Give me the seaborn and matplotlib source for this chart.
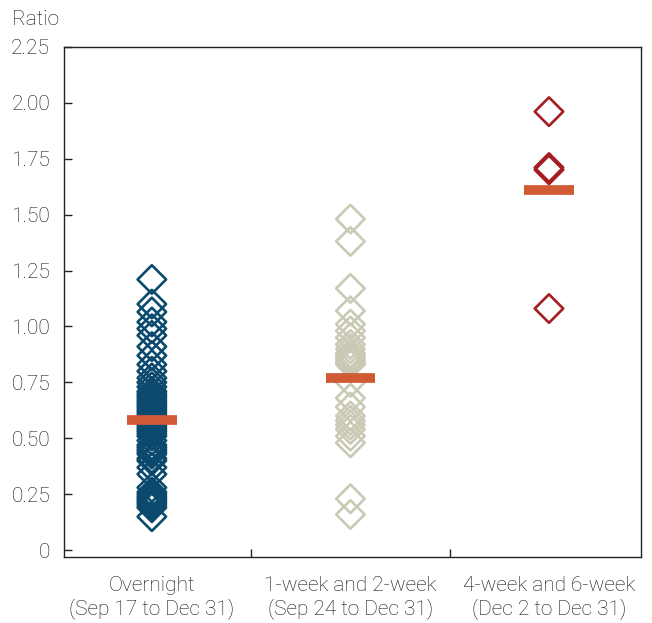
import numpy as np
import pandas as pd
import matplotlib
matplotlib.use("Agg")
import matplotlib.pyplot as plt
import seaborn as sns

# category labels
categories = [
    "Overnight\n(Sep 17 to Dec 31)",
    "1-week and 2-week\n(Sep 24 to Dec 31)",
    "4-week and 6-week\n(Dec 2 to Dec 31)",
]

# daily ratios
overnight = [1.21, 1.10, 1.065, 1.02, 0.99, 0.96, 0.91, 0.87, 0.83, 0.80,
             0.77, 0.75, 0.73, 0.71, 0.70, 0.69, 0.68, 0.67, 0.66, 0.65,
             0.64, 0.63, 0.62, 0.61, 0.60, 0.59, 0.58, 0.57, 0.56, 0.55,
             0.54, 0.53, 0.52, 0.51, 0.49, 0.47, 0.46, 0.45, 0.44, 0.43,
             0.41, 0.40, 0.37, 0.34, 0.28, 0.26, 0.25, 0.24, 0.23, 0.22,
             0.21, 0.20, 0.19, 0.15]
week_1_2 = [1.48, 1.38, 1.17, 1.07, 1.01, 0.98, 0.95, 0.92, 0.90, 0.88,
            0.87, 0.86, 0.85, 0.84, 0.83, 0.75, 0.68, 0.64, 0.60, 0.58,
            0.56, 0.54, 0.51, 0.48, 0.23, 0.16]
week_4_6 = [1.96, 1.71, 1.70, 1.08]

# averages shown as bars
mean_vals = [0.58, 0.77, 1.61]

colors = ["#0b4a6e", "#c9c9b5", "#a51c21"]
bar_color = "#d05a34"
text_color = "#111111"

df = pd.DataFrame({
    "group": [categories[0]] * len(overnight) + [categories[1]] * len(week_1_2)
             + [categories[2]] * len(week_4_6),
    "ratio": overnight + week_1_2 + week_4_6,
})

sns.set_style("white")
plt.rcParams["font.family"] = ["Roboto", "DejaVu Sans"]

fig = plt.figure(figsize=(6.52, 6.23), dpi=100)
ax = fig.add_axes([0.098, 0.106, 0.885, 0.819])

sns.stripplot(data=df, x="group", y="ratio", hue="group", order=categories,
              hue_order=categories, palette=dict(zip(categories, colors)),
              jitter=False, marker="D", size=14.5, legend=False, ax=ax, zorder=2)

# hollow diamonds
for coll in ax.collections:
    fc = coll.get_facecolors()
    coll.set_edgecolors(fc)
    coll.set_facecolors("none")
    coll.set_linewidth(1.9)

pos = np.arange(len(categories))
ax.hlines(mean_vals, pos - 0.125, pos + 0.125, colors=bar_color, lw=7, zorder=3)

ax.set_xlim(-0.443, 2.463)
ax.set_ylim(-0.03, 2.25)
ax.set_yticks(np.arange(0, 2.26, 0.25))
ax.set_yticklabels(["0"] + [f"{v:.2f}" for v in np.arange(0.25, 2.26, 0.25)])
ax.set_xticks(pos)
ax.set_xticklabels(categories)
ax.set_xticks([0.5, 1.5], minor=True)
ax.set_xlabel("")
ax.set_ylabel("")

for s in ax.spines.values():
    s.set_visible(True)
    s.set_color("#222222")
    s.set_linewidth(1.0)

ax.tick_params(axis="y", direction="in", length=6, width=1, color="#222222",
               left=True, pad=10, labelsize=15, labelcolor=text_color)
ax.tick_params(axis="x", which="major", length=0, pad=14, labelsize=15,
               labelcolor=text_color)
ax.tick_params(axis="x", which="minor", direction="in", length=6, width=1,
               color="#222222", bottom=True)
for lab in ax.get_xticklabels() + ax.get_yticklabels():
    lab.set_fontweight("light")
    lab.set_linespacing(1.15)

fig.text(0.018, 0.968, "Ratio", fontsize=15, color=text_color,
         fontweight="light", va="center", ha="left")

fig.savefig("out.png", dpi=100)
